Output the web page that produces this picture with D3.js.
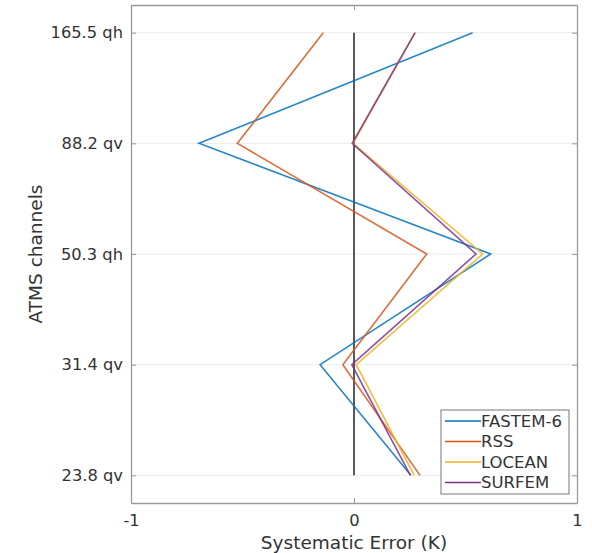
<!DOCTYPE html>
<html>
<head>
<meta charset="utf-8">
<script src="https://cdn.jsdelivr.net/npm/d3@7"></script>
<style>
  body { margin: 0; background: #fff; }
  text { font-family: "DejaVu Sans", sans-serif; fill: #333; }
</style>
</head>
<body>
<div class="canvas"></div>
<script>
// channels, bottom to top
const channels = ['23.8 qv', '31.4 qv', '50.3 qh', '88.2 qv', '165.5 qh'];
const xTicks = [-1, 0, 1];

// systematic error (K) per channel, same order as channels
const fastem6 = [0.255, -0.152, 0.613, -0.695, 0.532];
const rss     = [0.296, -0.05, 0.326, -0.523, -0.138];
const locean  = [0.27, 0.01, 0.577, -0.004, 0.274];
const surfem  = [0.253, -0.01, 0.547, -0.008, 0.274];

const seriesNames = ['FASTEM-6', 'RSS', 'LOCEAN', 'SURFEM'];
const seriesColors = ['#0072BD', '#D95319', '#EDB120', '#7E2F8E'];
const seriesData = [fastem6, rss, locean, surfem];

const svg = d3.select('.canvas')
  .append('svg')
    .attr('width', 592)
    .attr('height', 553);

const margin = {top: 5, right: 15, bottom: 50, left: 131};
const graphWidth = 592 - margin.left - margin.right;
const graphHeight = 553 - margin.top - margin.bottom;

const graph = svg.append('g')
  .attr('transform', `translate(${margin.left}, ${margin.top})`);

const x = d3.scaleLinear()
  .domain([-1, 1])
  .range([0, graphWidth]);

const y = d3.scaleLinear()
  .domain([0.75, channels.length + 0.25])
  .range([graphHeight, 0]);

// grid lines
graph.selectAll('line.grid')
  .data(channels)
  .enter()
  .append('line')
    .attr('class', 'grid')
    .attr('x1', 0)
    .attr('x2', graphWidth)
    .attr('y1', (d, i) => y(i + 1))
    .attr('y2', (d, i) => y(i + 1))
    .attr('stroke', '#ebebeb')
    .attr('stroke-width', 1);

// axes (ticks inward like matlab)
const yAxis = d3.axisLeft(y)
  .tickValues(channels.map((d, i) => i + 1))
  .tickFormat((d) => channels[d - 1])
  .tickSizeInner(-5)
  .tickSizeOuter(0)
  .tickPadding(8);

const yAxisRight = d3.axisRight(y)
  .tickValues(channels.map((d, i) => i + 1))
  .tickFormat('')
  .tickSizeInner(-5)
  .tickSizeOuter(0);

const xAxis = d3.axisBottom(x)
  .tickValues(xTicks)
  .tickFormat(d => String(d))
  .tickSizeInner(-5)
  .tickSizeOuter(0)
  .tickPadding(11);

const xAxisTop = d3.axisTop(x)
  .tickValues(xTicks)
  .tickFormat('')
  .tickSizeInner(-5)
  .tickSizeOuter(0);

const yAxisGroup = graph.append('g').call(yAxis);
graph.append('g').attr('transform', `translate(${graphWidth}, 0)`).call(yAxisRight);
const xAxisGroup = graph.append('g').attr('transform', `translate(0, ${graphHeight})`).call(xAxis);
graph.append('g').call(xAxisTop);

graph.selectAll('.domain').attr('stroke', '#9a9a9a').attr('stroke-width', 1.3);
graph.selectAll('.tick line').attr('stroke', '#9a9a9a');
yAxisGroup.selectAll('text').attr('font-size', 16.3).attr('fill', '#333');
xAxisGroup.selectAll('text').attr('font-size', 16.3).attr('fill', '#333');

// zero line
graph.append('line')
  .attr('x1', x(0))
  .attr('x2', x(0))
  .attr('y1', y(channels.length))
  .attr('y2', y(1))
  .attr('stroke', '#222')
  .attr('stroke-width', 1.5);

// series lines
const line = d3.line()
  .x(d => x(d))
  .y((d, i) => y(i + 1));

seriesData.forEach((s, k) => {
  graph.append('path')
    .attr('fill', 'none')
    .attr('stroke', seriesColors[k])
    .attr('stroke-width', 1.6)
    .attr('stroke-opacity', 0.85)
    .attr('d', line(s));
});

// legend
const legendGroup = svg.append('g')
  .attr('transform', 'translate(441, 410)');

legendGroup.append('rect')
  .attr('width', 128)
  .attr('height', 84)
  .attr('fill', '#fff')
  .attr('stroke', '#777')
  .attr('stroke-width', 1);

seriesNames.forEach((n, k) => {
  const yy = 11 + k * 20.5;
  legendGroup.append('line')
    .attr('x1', 4).attr('x2', 40)
    .attr('y1', yy).attr('y2', yy)
    .attr('stroke', seriesColors[k])
    .attr('stroke-width', 1.6);
  legendGroup.append('text')
    .attr('x', 40)
    .attr('y', yy)
    .attr('dy', '0.36em')
    .attr('font-size', 16.5)
    .attr('fill', '#222')
    .text(n);
});

// axis labels
svg.append('text')
  .attr('x', margin.left + x(0))
  .attr('y', 549)
  .attr('text-anchor', 'middle')
  .attr('font-size', 18.5)
  .text('Systematic Error (K)');

svg.append('text')
  .attr('transform', `translate(42, ${margin.top + graphHeight / 2}) rotate(-90)`)
  .attr('text-anchor', 'middle')
  .attr('font-size', 18.5)
  .text('ATMS channels');
</script>
</body>
</html>
